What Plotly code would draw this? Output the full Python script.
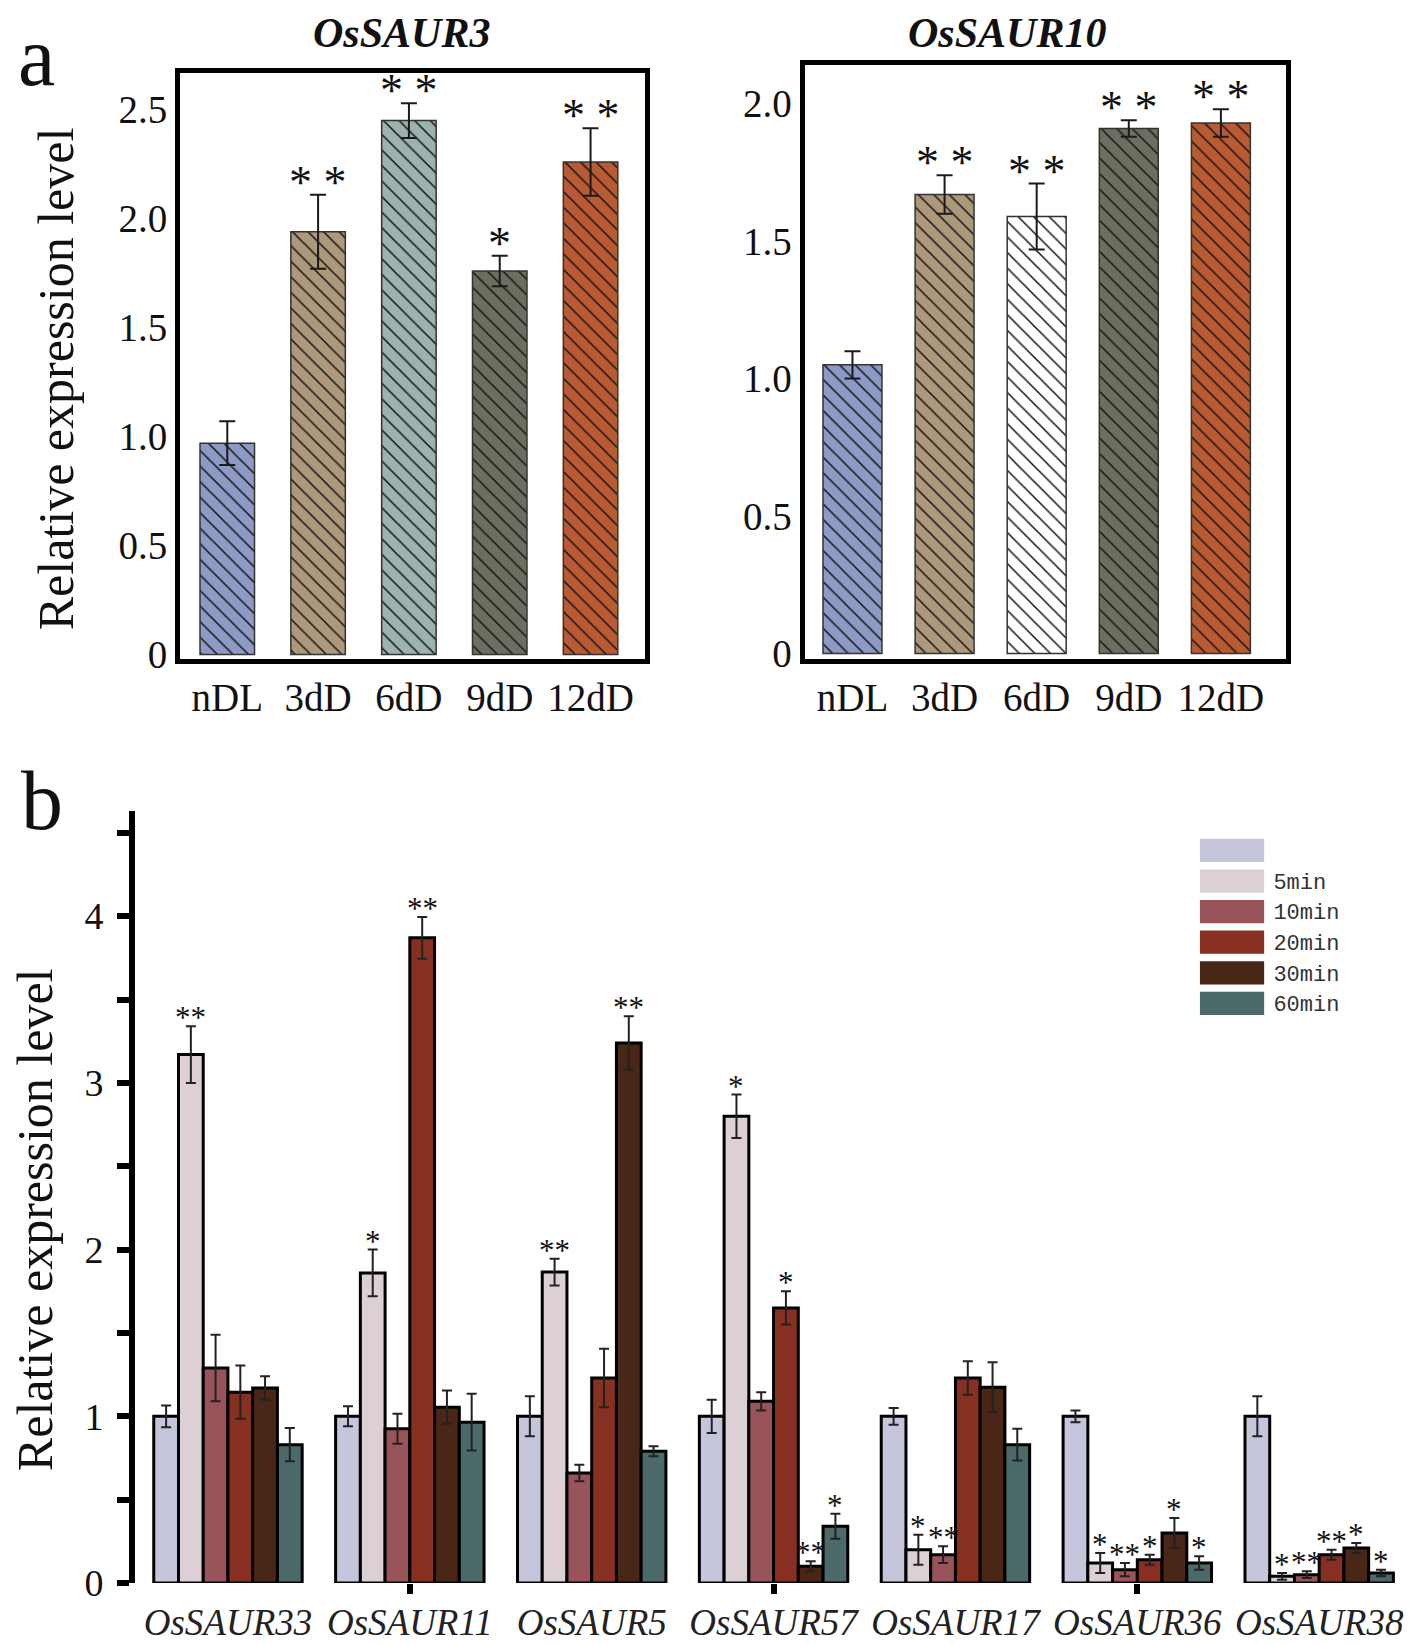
import plotly.graph_objects as go

# ---------------- data ----------------
a_cats = ["nDL", "3dD", "6dD", "9dD", "12dD"]
saur3_vals = [0.97, 1.94, 2.45, 1.76, 2.26]
saur3_err = [0.10, 0.17, 0.08, 0.07, 0.155]
saur3_sig = ["", "* *", "* *", "*", "* *"]
saur10_vals = [1.05, 1.67, 1.59, 1.91, 1.93]
saur10_err = [0.05, 0.07, 0.12, 0.03, 0.05]
saur10_sig = ["", "* *", "* *", "* *", "* *"]
saur3_colors = ["#8E9AC6", "#AE987C", "#9CB2B0", "#6E6E60", "#B95A33"]
saur10_colors = ["#8E9AC6", "#AE987C", "#FFFFFF", "#6E6E60", "#B95A33"]
a_left_ticks = [0, 0.5, 1.0, 1.5, 2.0, 2.5]
a_right_ticks = [0, 0.5, 1.0, 1.5, 2.0]

genes = ["OsSAUR33", "OsSAUR11", "OsSAUR5", "OsSAUR57", "OsSAUR17", "OsSAUR36", "OsSAUR38"]
series_names = ["", "5min", "10min", "20min", "30min", "60min"]
series_colors = ["#C5C6DB", "#DDD0D5", "#98545A", "#873022", "#4A2616", "#4D6A6B"]
ctrl_vals = [1.0, 1.0, 1.0, 1.0, 1.0, 1.0, 1.0]
ctrl_err = [0.065, 0.06, 0.12, 0.10, 0.05, 0.035, 0.12]
m5_vals = [3.17, 1.86, 1.865, 2.80, 0.20, 0.12, 0.04]
m5_err = [0.17, 0.14, 0.08, 0.13, 0.09, 0.06, 0.02]
m10_vals = [1.29, 0.925, 0.66, 1.09, 0.17, 0.08, 0.05]
m10_err = [0.20, 0.09, 0.05, 0.055, 0.05, 0.04, 0.02]
m20_vals = [1.145, 3.87, 1.23, 1.65, 1.23, 0.14, 0.17]
m20_err = [0.16, 0.125, 0.175, 0.10, 0.10, 0.03, 0.03]
m30_vals = [1.17, 1.055, 3.24, 0.10, 1.175, 0.30, 0.21]
m30_err = [0.07, 0.10, 0.16, 0.03, 0.15, 0.09, 0.03]
m60_vals = [0.83, 0.965, 0.79, 0.34, 0.83, 0.12, 0.06]
m60_err = [0.10, 0.17, 0.03, 0.075, 0.095, 0.04, 0.02]
ctrl_sig = ["", "", "", "", "", "", ""]
m5_sig = ["**", "*", "**", "*", "*", "*", "*"]
m10_sig = ["", "", "", "", "**", "**", "**"]
m20_sig = ["", "**", "", "*", "", "*", "**"]
m30_sig = ["", "", "**", "**", "", "*", "*"]
m60_sig = ["", "", "", "*", "", "*", "*"]
b_ticks = [0, 1, 2, 3, 4]

b_vals = [ctrl_vals, m5_vals, m10_vals, m20_vals, m30_vals, m60_vals]
b_errs = [ctrl_err, m5_err, m10_err, m20_err, m30_err, m60_err]
b_sigs = [ctrl_sig, m5_sig, m10_sig, m20_sig, m30_sig, m60_sig]

# ---------------- layout helpers (reference pixel frame) ----------------
RW, RH = 1360.0, 1556.0
def fx(x):
    return x / RW
def fy(y):
    return 1 - y / RH

SERIF = "Liberation Serif, Times New Roman, serif"

fig = go.Figure()

# ---------------- panel a ----------------
def add_a_panel(vals, errs, colors, xa, ya, width):
    for i in range(len(a_cats)):
        fig.add_trace(go.Bar(
            x=[i], y=[vals[i]], width=width,
            error_y=dict(type="data", array=[errs[i]], color="#1a1a1a", thickness=2, width=8),
            marker=dict(color=colors[i],
                        line=dict(color="#333333", width=1.5),
                        pattern=dict(shape="\\", fgcolor="#151515", bgcolor=colors[i],
                                     fgopacity=1, size=11, solidity=0.14,
                                     fillmode="replace")),
            xaxis=xa, yaxis=ya, showlegend=False, hoverinfo="skip"))

add_a_panel(saur3_vals, saur3_err, saur3_colors, "x", "y", 0.6)
add_a_panel(saur10_vals, saur10_err, saur10_colors, "x2", "y2", 0.64)

# ---------------- panel b ----------------
nser = len(series_names)
bw = 0.816 / nser
for k in range(nser):
    off = -0.408 + k * bw
    fig.add_trace(go.Bar(
        x=list(range(len(genes))), y=b_vals[k], width=bw, offset=off,
        name=series_names[k],
        error_y=dict(type="data", array=b_errs[k], color="#222222", thickness=2, width=5),
        marker=dict(color=series_colors[k], line=dict(color="#000000", width=3)),
        xaxis="x3", yaxis="y3", showlegend=False, hoverinfo="skip"))

# legend drawn as a tiny horizontal bar chart
fig.add_trace(go.Bar(
    y=list(range(nser)), x=[1] * nser, orientation="h", width=0.76,
    marker=dict(color=series_colors, line=dict(width=0)),
    xaxis="x4", yaxis="y4", showlegend=False, hoverinfo="skip"))

annotations = []
# stars panel a
for i, s in enumerate(saur3_sig):
    if s:
        annotations.append(dict(x=i, y=saur3_vals[i] + saur3_err[i], xref="x", yref="y",
                                text=s, showarrow=False, xanchor="center", yanchor="bottom",
                                yshift=-15, font=dict(family=SERIF, size=46, color="#111")))
for i, s in enumerate(saur10_sig):
    if s:
        annotations.append(dict(x=i, y=saur10_vals[i] + saur10_err[i], xref="x2", yref="y2",
                                text=s, showarrow=False, xanchor="center", yanchor="bottom",
                                yshift=-15, font=dict(family=SERIF, size=46, color="#111")))
# stars panel b
for k in range(nser):
    off = -0.408 + k * bw
    for i, s in enumerate(b_sigs[k]):
        if s:
            annotations.append(dict(x=i + off + bw / 2, y=b_vals[k][i] + b_errs[k][i],
                                    xref="x3", yref="y3", text=s, showarrow=False,
                                    xanchor="center", yanchor="bottom", yshift=-11,
                                    font=dict(family=SERIF, size=31, color="#111")))

# titles and labels
def paper_text(x, y, text, size, angle=0, yanchor="middle"):
    return dict(x=fx(x), y=fy(y), xref="paper", yref="paper", text=text,
                textangle=angle, showarrow=False, xanchor="center", yanchor=yanchor,
                font=dict(family=SERIF, size=size, color="#111"))

annotations += [
    paper_text(377, 0, "<b><i>OsSAUR3</i></b>", 42, yanchor="top"),
    paper_text(958, 0, "<b><i>OsSAUR10</i></b>", 42, yanchor="top"),
    paper_text(46, 355, "Relative expression level", 50, -90),
    paper_text(26, 1162, "Relative expression level", 50, -90),
    paper_text(27, 0, "a", 84, yanchor="top"),
    paper_text(33, 760, "b", 84),
]

def fmt(v):
    return "0" if v == 0 else "%.1f" % v

box_axis = dict(showline=True, linewidth=5, linecolor="#000", mirror=True,
                showgrid=False, zeroline=False, ticks="")

fig.update_layout(
    width=1418, height=1644, margin=dict(l=0, r=0, t=0, b=0),
    paper_bgcolor="white", plot_bgcolor="white", barmode="overlay",
    font=dict(family=SERIF, color="#111"),
    annotations=annotations,
    xaxis=dict(domain=[fx(165), fx(611)], range=[-0.52, 4.6], anchor="y",
               tickvals=list(range(len(a_cats))), ticktext=a_cats,
               tickfont=dict(size=39), **box_axis),
    yaxis=dict(domain=[fy(624), fy(62)], range=[-0.02, 2.67], anchor="x",
               tickvals=a_left_ticks, ticktext=[fmt(v) for v in a_left_ticks],
               tickfont=dict(size=39), **box_axis),
    xaxis2=dict(domain=[fx(764), fx(1226)], range=[-0.52, 4.71], anchor="y2",
                tickvals=list(range(len(a_cats))), ticktext=a_cats,
                tickfont=dict(size=39), **box_axis),
    yaxis2=dict(domain=[fy(624), fy(55)], range=[-0.02, 2.14], anchor="x2",
                tickvals=a_right_ticks, ticktext=[fmt(v) for v in a_right_ticks],
                tickfont=dict(size=39), **box_axis),
    xaxis3=dict(domain=[fx(122), fx(1350)], range=[-0.51, 6.53], anchor="y3",
                tickvals=list(range(len(genes))),
                ticktext=["<i>%s</i>" % g for g in genes],
                tickfont=dict(size=37, family=SERIF, color="#222"), showline=False,
                showgrid=False, zeroline=False, ticks="", ticklabelstandoff=14,
                minor=dict(tickvals=[1, 3, 5], ticks="outside", ticklen=10, tickwidth=6,
                           tickcolor="#000")),
    yaxis3=dict(domain=[fy(1510), fy(770)], range=[0, 4.63], anchor="x3",
                tickvals=b_ticks, ticktext=[str(v) for v in b_ticks],
                tickfont=dict(size=38), showline=True, linewidth=6, linecolor="#000",
                showgrid=False, zeroline=False, ticks="outside", ticklen=12, tickwidth=6,
                tickcolor="#000", ticklabelstandoff=6,
                minor=dict(dtick=0.5, ticks="outside", ticklen=12, tickwidth=6,
                           tickcolor="#000")),
    xaxis4=dict(domain=[fx(1143), fx(1205)], range=[0, 1], anchor="y4", visible=False),
    yaxis4=dict(domain=[fy(969), fy(793)], range=[nser - 0.5, -0.5], anchor="x4",
                tickvals=list(range(nser)), ticktext=series_names, side="right",
                showline=False, showgrid=False, zeroline=False, ticks="",
                ticklabelstandoff=8,
                tickfont=dict(size=22, family="Liberation Mono, monospace", color="#333")),
)

fig.write_html("out.html")
